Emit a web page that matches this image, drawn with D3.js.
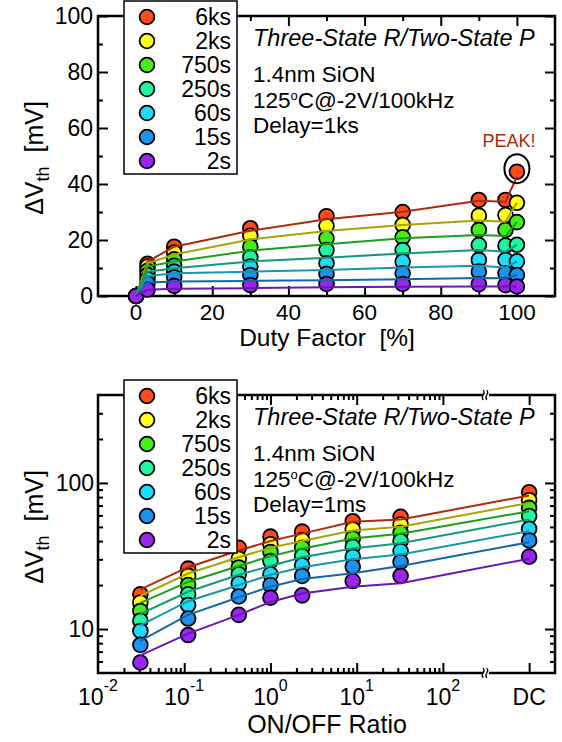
<!DOCTYPE html>
<html>
<head>
<meta charset="utf-8">
<script src="https://cdn.jsdelivr.net/npm/d3@7"></script>
<style>
body { margin: 0; background: #fff; }
text { font-family: "Liberation Sans", Arial, sans-serif; fill: #000; }
</style>
</head>
<body>
<script>
// series (stress times), drawn top to bottom
const series = ["6ks", "2ks", "750s", "250s", "60s", "15s", "2s"];
const fills = ["#ff4a1c", "#ffff1a", "#44ee1c", "#1ff5a2", "#1cdcfa", "#1e92f0", "#9a24f0"];
const lineCols = ["#b02a0a", "#aaa400", "#18a018", "#109a7a", "#1896aa", "#1266aa", "#6a16b8"];

// top panel: duty factor [%]
const duty = [0, 3, 10, 30, 50, 70, 90, 97, 100];
const topPts = [
  [0, 11.5, 17.6, 24.2, 28.5, 30.0, 34.3, 34.3, 44.4],
  [0, 10.5, 15.5, 21.5, 25.0, 25.4, 28.7, 28.9, 33.3],
  [0, 9.0, 13.1, 17.6, 20.6, 21.0, 23.6, 23.6, 26.4],
  [0, 7.5, 10.8, 13.8, 16.4, 16.4, 18.2, 18.0, 18.3],
  [0, 6.0, 8.7, 10.5, 11.7, 12.3, 12.9, 12.9, 12.4],
  [0, 4.5, 6.7, 7.5, 7.9, 8.1, 8.7, 8.1, 7.5],
  [0, 2.3, 3.6, 3.9, 4.3, 4.3, 4.2, 3.9, 3.4]
];
const topFit = [
  [0, 12.3, 17.6, 23.3, 27.4, 30.1, 34.0, 33.7, 42.6],
  [0, 11.7, 14.8, 20.2, 23.2, 25.4, 27.0, 26.5, 33.3],
  [0, 10.5, 12.3, 16.2, 18.5, 20.6, 21.8, 21.4, 26.4],
  [0, 8.7, 9.9, 12.3, 13.7, 15.2, 16.4, 15.8, 18.3],
  [0, 7.1, 8.1, 8.7, 9.3, 10.2, 10.8, 10.2, 12.4],
  [0, 4.8, 5.2, 5.4, 5.6, 6.0, 6.4, 6.3, 7.5],
  [0, 2.2, 2.6, 2.8, 3.1, 3.3, 3.4, 3.4, 3.4]
];

// bottom panel: ON/OFF ratio, DC is put at 1000 behind the axis break
const ratio = [0.031, 0.111, 0.429, 1, 2.33, 9, 32.3, 1000];
const botPts = [
  [17.3, 25.9, 36.0, 42.9, 46.4, 54.7, 58.6, 86.3],
  [15.2, 23.1, 30.3, 38.0, 40.6, 48.1, 52.0, 76.2],
  [13.3, 20.0, 26.4, 33.7, 36.0, 41.7, 45.6, 67.5],
  [11.4, 17.3, 23.7, 29.2, 31.6, 36.6, 40.0, 59.3],
  [9.7, 14.6, 20.5, 23.7, 27.3, 31.3, 34.2, 48.5],
  [7.8, 11.8, 16.7, 20.0, 23.1, 26.7, 28.8, 40.4],
  [5.9, 9.1, 12.5, 16.4, 17.0, 21.3, 23.1, 31.3]
];
const botFit = [
  [18.7, 26.5, 34.5, 40.0, 45.0, 54.2, 56.2, 82.0],
  [16.9, 24.0, 31.0, 36.0, 40.0, 47.3, 50.1, 73.0],
  [15.1, 21.0, 27.0, 31.5, 35.5, 41.7, 44.9, 64.0],
  [12.7, 18.0, 23.5, 27.0, 31.0, 35.6, 38.6, 56.2],
  [10.6, 15.5, 20.0, 23.5, 26.5, 30.0, 32.4, 46.8],
  [8.3, 12.5, 16.5, 19.5, 22.0, 24.1, 27.0, 39.3],
  [6.6, 9.3, 12.5, 15.3, 17.5, 19.5, 20.6, 30.3]
];

// ticks and labels
const topXMajor = [0, 20, 40, 60, 80, 100];
const topXMinor = [10, 30, 50, 70, 90];
const topYMajor = [0, 20, 40, 60, 80, 100];
const topYMinor = [10, 30, 50, 70, 90];
const botXMajor = [0.1, 1, 10, 100, 1000];
const botXMinor = [0.02, 0.03, 0.04, 0.05, 0.06, 0.07, 0.08, 0.09,
                   0.2, 0.3, 0.4, 0.5, 0.6, 0.7, 0.8, 0.9,
                   2, 3, 4, 5, 6, 7, 8, 9,
                   20, 30, 40, 50, 60, 70, 80, 90];
const botXLabels = [0.01, 0.1, 1, 10, 100];
const botXExp = ["-2", "-1", "0", "1", "2"];
const botYMajor = [10, 100];
const botYMinor = [6, 7, 8, 9, 20, 30, 40, 50, 60, 70, 80, 90, 200, 300];
const breakAt = 316;

const W = 562, H = 742;
const L = 98, R = 555;
const svg = d3.select("body").append("svg").attr("width", W).attr("height", H);

const xTop = d3.scaleLinear().domain([-10, 110]).range([L, R]);
const yTop = d3.scaleLinear().domain([0, 100]).range([296, 16]);
const xBot = d3.scaleLog().domain([0.01, 1995]).range([L, R]);
const yBot = d3.scaleLog().domain([5, 400]).range([673, 395]);

function frameTicks(g, x, y, xMaj, xMin, yMaj, yMin) {
  const [y0, y1] = y.range();
  const [x0, x1] = x.range();
  const axes = [
    [d3.axisBottom, x, xMaj, xMin, `translate(0,${y0})`],
    [d3.axisTop, x, xMaj, xMin, `translate(0,${y1})`],
    [d3.axisLeft, y, yMaj, yMin, `translate(${x0},0)`],
    [d3.axisRight, y, yMaj, yMin, `translate(${x1},0)`]
  ];
  axes.forEach(([ax, sc, maj, min, tr]) => {
    [[maj, -10], [min, -5]].forEach(([vals, len]) => {
      g.append("g").attr("transform", tr)
        .call(ax(sc).tickValues(vals).tickSize(len).tickFormat(""))
        .call(a => a.select(".domain").remove())
        .selectAll("line").attr("stroke", "#000").attr("stroke-width", 2);
    });
  });
  g.append("rect").attr("x", x0).attr("y", y1)
    .attr("width", x1 - x0).attr("height", y0 - y1)
    .attr("fill", "none").attr("stroke", "#000").attr("stroke-width", 2.5);
}

function dataLayer(g, x, y, xs, pts, fit) {
  pts.forEach((vals, i) => {
    g.append("g").selectAll("circle")
      .data(vals.map((v, j) => [xs[j], v]))
      .join("circle")
        .attr("cx", d => x(d[0]))
        .attr("cy", d => y(d[1]))
        .attr("r", 7.4)
        .attr("fill", fills[i])
        .attr("stroke", "#000")
        .attr("stroke-width", 1.8);
  });
  const line = d3.line().x(d => x(d[0])).y(d => y(d[1]));
  fit.forEach((vals, i) => {
    g.append("path")
      .attr("d", line(vals.map((v, j) => [xs[j], v])))
      .attr("fill", "none")
      .attr("stroke", lineCols[i])
      .attr("stroke-width", 2);
  });
}

function legend(g, frameTop) {
  g.append("rect").attr("x", 124).attr("y", frameTop - 15)
    .attr("width", 113).attr("height", 173)
    .attr("fill", "#fff").attr("stroke", "#000").attr("stroke-width", 1.5);
  series.forEach((s, i) => {
    const cy = frameTop + 1 + i * 24;
    g.append("circle").attr("cx", 147).attr("cy", cy).attr("r", 7.4)
      .attr("fill", fills[i]).attr("stroke", "#000").attr("stroke-width", 1.8);
    g.append("text").attr("x", 231).attr("y", cy + 8)
      .attr("text-anchor", "end").attr("font-size", 23).text(s);
  });
}

function notes(g, frameTop, delay) {
  g.append("text").attr("x", 253).attr("y", frameTop + 29.5)
    .attr("font-size", 23.5).attr("font-style", "italic")
    .text("Three-State R/Two-State P");
  g.append("text").attr("x", 253).attr("y", frameTop + 66)
    .attr("font-size", 22.5).text("1.4nm SiON");
  const t = g.append("text").attr("x", 253).attr("y", frameTop + 92).attr("font-size", 22.5);
  t.append("tspan").text("125");
  t.append("tspan").attr("dy", -8).attr("font-size", 13).text("o");
  t.append("tspan").attr("dy", 8).text("C@-2V/100kHz");
  g.append("text").attr("x", 253).attr("y", frameTop + 117)
    .attr("font-size", 22.5).text("Delay=" + delay);
}

function yTitle(cy) {
  const t = svg.append("text")
    .attr("transform", `translate(43,${cy}) rotate(-90)`)
    .attr("text-anchor", "middle").attr("font-size", 25)
    .style("white-space", "pre");
  t.append("tspan").text("\u0394V");
  t.append("tspan").attr("dy", 6).attr("font-size", 18).text("th");
  t.append("tspan").attr("dy", -6).text("  [mV]");
}

// ---------- top panel ----------
const gTop = svg.append("g");
frameTicks(gTop, xTop, yTop, topXMajor, topXMinor, topYMajor, topYMinor);
dataLayer(gTop, xTop, yTop, duty, topPts, topFit);

const peak = topPts[0][topPts[0].length - 1];
gTop.append("ellipse")
  .attr("cx", xTop(100)).attr("cy", yTop(peak) - 3)
  .attr("rx", 12.5).attr("ry", 14.5)
  .attr("fill", "none").attr("stroke", "#000").attr("stroke-width", 2);
gTop.append("text")
  .attr("x", xTop(100) - 8).attr("y", yTop(peak) - 25)
  .attr("text-anchor", "middle").attr("font-size", 18)
  .style("fill", "#a82a10").text("PEAK!");

topYMajor.forEach(v => {
  gTop.append("text").attr("x", L - 5).attr("y", yTop(v) + 8)
    .attr("text-anchor", "end").attr("font-size", 23).text(v);
});
topXMajor.forEach(v => {
  gTop.append("text").attr("x", xTop(v)).attr("y", 320)
    .attr("text-anchor", "middle").attr("font-size", 22.5).text(v);
});
svg.append("text").attr("x", 327).attr("y", 346)
  .attr("text-anchor", "middle").attr("font-size", 24.5)
  .style("white-space", "pre").text("Duty Factor  [%]");
yTitle(158);
legend(gTop, 16);
notes(gTop, 16, "1ks");

// ---------- bottom panel ----------
const gBot = svg.append("g");
frameTicks(gBot, xBot, yBot, botXMajor, botXMinor, botYMajor, botYMinor);

// axis break marks
[673, 395].forEach(yy => {
  const bx = xBot(breakAt);
  gBot.append("rect").attr("x", bx - 3).attr("y", yy - 4).attr("width", 6).attr("height", 8).attr("fill", "#fff");
  [-1.8, 1.8].forEach(dx => {
    gBot.append("path")
      .attr("d", `M${bx + dx - 1},${yy - 5} q2,2.5 0,5 q-2,2.5 0,5`)
      .attr("fill", "none").attr("stroke", "#000").attr("stroke-width", 1.2);
  });
});

dataLayer(gBot, xBot, yBot, ratio, botPts, botFit);

botYMajor.forEach(v => {
  gBot.append("text").attr("x", L - 4).attr("y", yBot(v) + 8)
    .attr("text-anchor", "end").attr("font-size", 23).text(v);
});
botXLabels.forEach((v, i) => {
  const t = gBot.append("text").attr("x", xBot(v)).attr("y", 705)
    .attr("text-anchor", "middle").attr("font-size", 23);
  t.append("tspan").text("10");
  t.append("tspan").attr("dy", -14).attr("font-size", 16).text(botXExp[i]);
});
gBot.append("text").attr("x", xBot(1000)).attr("y", 705)
  .attr("text-anchor", "middle").attr("font-size", 23).text("DC");
svg.append("text").attr("x", 327).attr("y", 733)
  .attr("text-anchor", "middle").attr("font-size", 25).text("ON/OFF Ratio");
yTitle(527);
legend(gBot, 395);
notes(gBot, 395, "1ms");
</script>
</body>
</html>
